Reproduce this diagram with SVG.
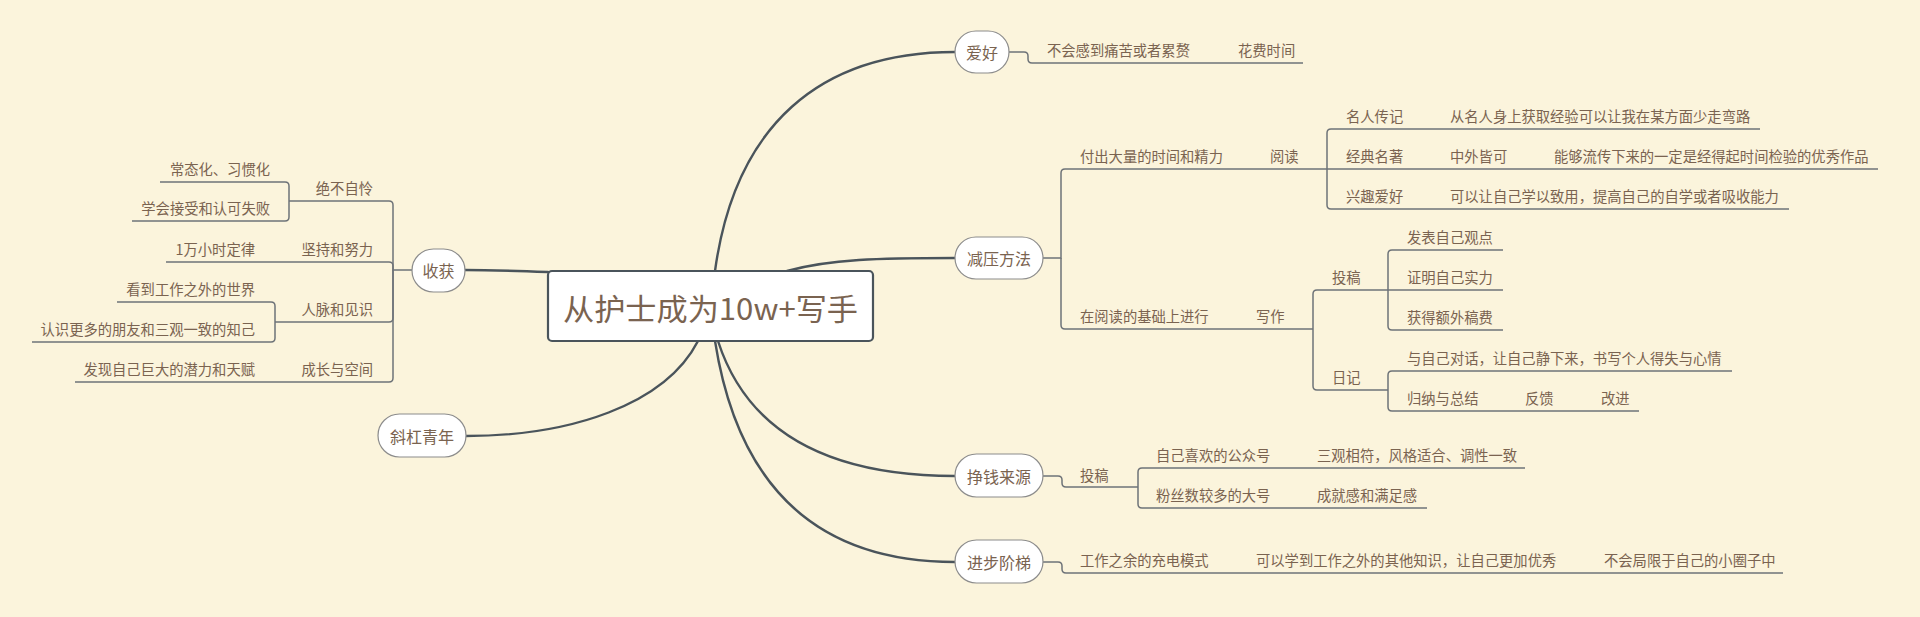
<svg xmlns="http://www.w3.org/2000/svg" width="1920" height="617" viewBox="0 0 1920 617">
<style>
.bg{fill:#fbf4dc}
.main{fill:none;stroke:#4a545b;stroke-width:2.4;stroke-linecap:round}
.sub{fill:none;stroke:#6e7378;stroke-width:1.5}
.node{fill:#ffffff;stroke:#8c8c8c;stroke-width:1.2}
.root{fill:#ffffff;stroke:#4a545b;stroke-width:2.2}
text{font-family:"Noto Sans CJK SC","Noto Sans",sans-serif;fill:#7a6350}
.t{font-size:14.3px}
.n{font-size:16px;text-anchor:middle}
.r{font-size:30px}
.e{text-anchor:end}
</style>
<rect class="bg" x="0" y="0" width="1920" height="617"/>

<g id="connectors">
  <path class="main" d="M548,272 C520,271 490,270 465,270"/>
  <path class="main" d="M698,341 C665,405 570,436 466,436"/>
  <path class="main" d="M715,271 C735,125 820,52 955,52"/>
  <path class="main" d="M787,271 C830,259 880,258 955,258"/>
  <path class="main" d="M718,341 C750,440 840,476 955,476"/>
  <path class="main" d="M715,341 C740,500 830,562 955,562"/>

  <!-- 收获 branches -->
  <path class="sub" d="M412,270 H393 V205 Q393,201 389,201 H289"/>
  <path class="sub" d="M393,270 V266 Q393,262 389,262 H166"/>
  <path class="sub" d="M393,270 V318 Q393,322 389,322 H275"/>
  <path class="sub" d="M393,270 V378 Q393,382 389,382 H75"/>
  <path class="sub" d="M289,201 V186 Q289,182 285,182 H160"/>
  <path class="sub" d="M289,201 V217 Q289,221 285,221 H132"/>
  <path class="sub" d="M275,322 V306 Q275,302 271,302 H117"/>
  <path class="sub" d="M275,322 V338 Q275,342 271,342 H32"/>

  <!-- 爱好 -->
  <path class="sub" d="M1009,52 H1024 Q1028,52 1028,56 V59 Q1028,63 1032,63 H1303"/>

  <!-- 减压方法 -->
  <path class="sub" d="M1043,258 H1061 V173 Q1061,169 1065,169 H1327"/>
  <path class="sub" d="M1061,258 V325 Q1061,329 1065,329 H1313"/>
  <path class="sub" d="M1327,169 V133 Q1327,129 1331,129 H1760"/>
  <path class="sub" d="M1327,169 H1878"/>
  <path class="sub" d="M1327,169 V205 Q1327,209 1331,209 H1789"/>
  <path class="sub" d="M1313,329 V294 Q1313,290 1317,290 H1388"/>
  <path class="sub" d="M1313,329 V386 Q1313,390 1317,390 H1388"/>
  <path class="sub" d="M1388,290 V254 Q1388,250 1392,250 H1503"/>
  <path class="sub" d="M1388,290 H1503"/>
  <path class="sub" d="M1388,290 V326 Q1388,330 1392,330 H1503"/>
  <path class="sub" d="M1388,390 V375 Q1388,371 1392,371 H1732"/>
  <path class="sub" d="M1388,390 V407 Q1388,411 1392,411 H1639"/>

  <!-- 挣钱来源 -->
  <path class="sub" d="M1043,476 H1058 Q1062,476 1062,480 V483 Q1062,487 1066,487 H1138"/>
  <path class="sub" d="M1138,487 V472 Q1138,468 1142,468 H1525"/>
  <path class="sub" d="M1138,487 V504 Q1138,508 1142,508 H1427"/>

  <!-- 进步阶梯 -->
  <path class="sub" d="M1043,562 H1058 Q1062,562 1062,566 V569 Q1062,573 1066,573 H1783"/>
</g>

<g id="root">
  <rect class="root" x="548" y="271" width="325" height="70" rx="4"/>
  <text class="r" x="563" y="320" textLength="295" lengthAdjust="spacingAndGlyphs">从护士成为10w+写手</text>
</g>

<g id="node-shouhuo">
  <rect class="node" x="412" y="249" width="53" height="43" rx="21.5"/>
  <text class="n" x="438.5" y="277">收获</text>
  <text class="t e" x="373" y="194">绝不自怜</text>
  <text class="t e" x="270" y="175">常态化、习惯化</text>
  <text class="t e" x="270" y="214">学会接受和认可失败</text>
  <text class="t e" x="373" y="255">坚持和努力</text>
  <text class="t e" x="255" y="255">1万小时定律</text>
  <text class="t e" x="373" y="315">人脉和见识</text>
  <text class="t e" x="255" y="295">看到工作之外的世界</text>
  <text class="t e" x="255" y="335">认识更多的朋友和三观一致的知己</text>
  <text class="t e" x="373" y="375">成长与空间</text>
  <text class="t e" x="255" y="375">发现自己巨大的潜力和天赋</text>
</g>

<g id="node-xiegang">
  <rect class="node" x="378" y="414" width="88" height="43" rx="21.5"/>
  <text class="n" x="422" y="443">斜杠青年</text>
</g>

<g id="node-aihao">
  <rect class="node" x="955" y="31" width="54" height="42" rx="21"/>
  <text class="n" x="982" y="59">爱好</text>
  <text class="t" x="1047" y="56">不会感到痛苦或者累赘</text>
  <text class="t" x="1238" y="56">花费时间</text>
</g>

<g id="node-jianya">
  <rect class="node" x="955" y="237" width="88" height="42" rx="21"/>
  <text class="n" x="999" y="265">减压方法</text>
  <text class="t" x="1080" y="162">付出大量的时间和精力</text>
  <text class="t" x="1270" y="162">阅读</text>
  <text class="t" x="1346" y="122">名人传记</text>
  <text class="t" x="1450" y="122">从名人身上获取经验可以让我在某方面少走弯路</text>
  <text class="t" x="1346" y="162">经典名著</text>
  <text class="t" x="1450" y="162">中外皆可</text>
  <text class="t" x="1554" y="162">能够流传下来的一定是经得起时间检验的优秀作品</text>
  <text class="t" x="1346" y="202">兴趣爱好</text>
  <text class="t" x="1450" y="202">可以让自己学以致用，提高自己的自学或者吸收能力</text>
  <text class="t" x="1080" y="322">在阅读的基础上进行</text>
  <text class="t" x="1256" y="322">写作</text>
  <text class="t" x="1332" y="283">投稿</text>
  <text class="t" x="1407" y="243">发表自己观点</text>
  <text class="t" x="1407" y="283">证明自己实力</text>
  <text class="t" x="1407" y="323">获得额外稿费</text>
  <text class="t" x="1332" y="383">日记</text>
  <text class="t" x="1407" y="364">与自己对话，让自己静下来，书写个人得失与心情</text>
  <text class="t" x="1407" y="404">归纳与总结</text>
  <text class="t" x="1525" y="404">反馈</text>
  <text class="t" x="1601" y="404">改进</text>
</g>

<g id="node-zhengqian">
  <rect class="node" x="955" y="454" width="88" height="43" rx="21.5"/>
  <text class="n" x="999" y="482.5">挣钱来源</text>
  <text class="t" x="1080" y="481">投稿</text>
  <text class="t" x="1156" y="461">自己喜欢的公众号</text>
  <text class="t" x="1317" y="461">三观相符，风格适合、调性一致</text>
  <text class="t" x="1156" y="501">粉丝数较多的大号</text>
  <text class="t" x="1317" y="501">成就感和满足感</text>
</g>

<g id="node-jinbu">
  <rect class="node" x="955" y="540" width="88" height="43" rx="21.5"/>
  <text class="n" x="999" y="568.5">进步阶梯</text>
  <text class="t" x="1080" y="566">工作之余的充电模式</text>
  <text class="t" x="1256" y="566">可以学到工作之外的其他知识，让自己更加优秀</text>
  <text class="t" x="1604" y="566">不会局限于自己的小圈子中</text>
</g>
</svg>
